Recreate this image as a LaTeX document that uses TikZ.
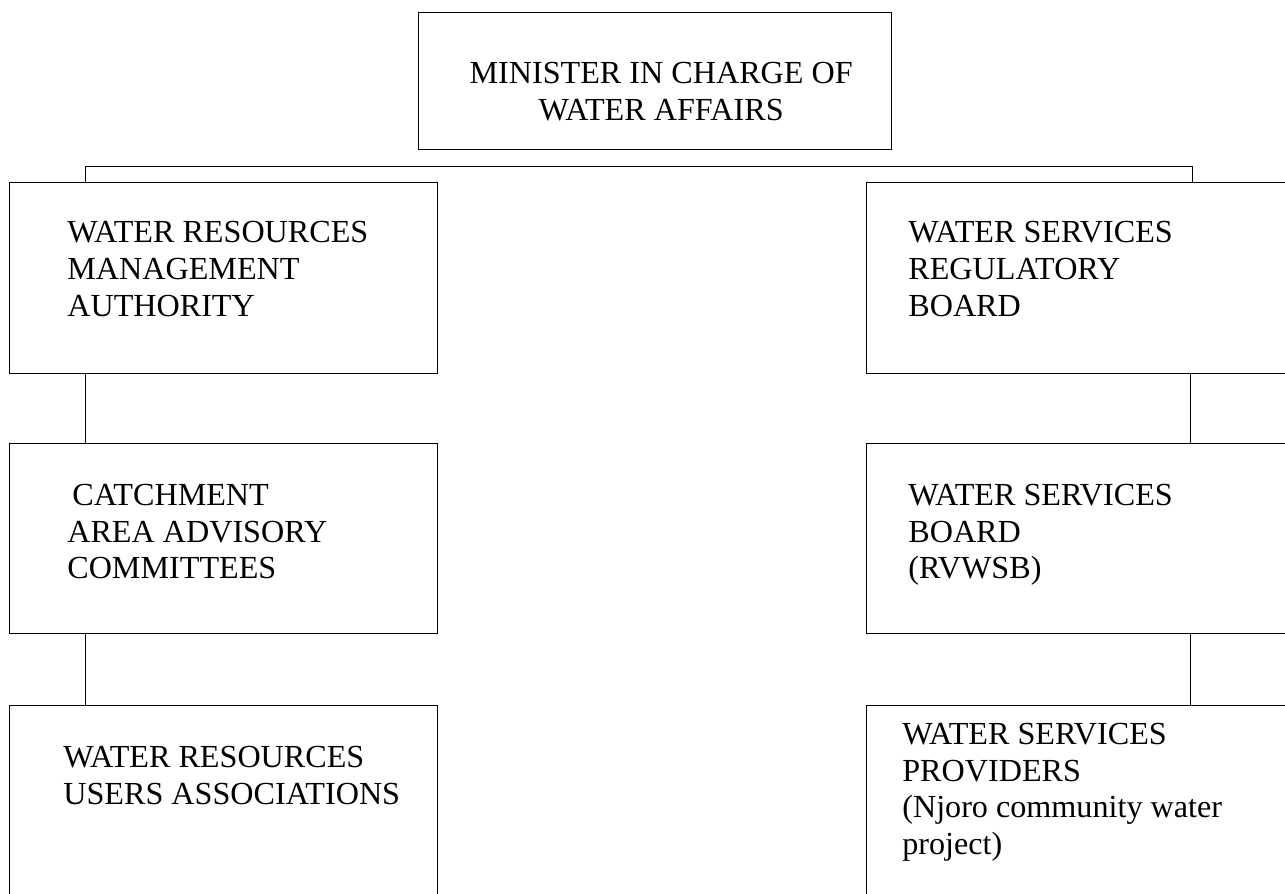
\documentclass[tikz,border=0pt]{standalone}
\usepackage{fontspec}
\setmainfont{Liberation Serif}
\usetikzlibrary{positioning}
\tikzset{
  orgbox/.style={draw=black, line width=0.8pt, anchor=north west, inner sep=0pt},
  orgtext/.style={inner sep=0pt, align=left, font=\fontsize{18.3pt}{21pt}\selectfont},
  link/.style={draw=black, line width=0.5pt}
}
\begin{document}
\begin{tikzpicture}[x=0.02cm,y=-0.02cm]
                          \useasboundingbox (0,0) rectangle (1285,893);
                          \clip (0,0) rectangle (1285,893);

                          % boxes
                          \node[orgbox, minimum width=9.46cm, minimum height=2.74cm] (minister) at (418,12) {};
                          \node[orgbox, minimum width=8.56cm, minimum height=3.82cm] (wrma) at (9,182) {};
                          \node[orgbox, minimum width=8.56cm, minimum height=3.8cm] (caac) at (9,443) {};
                          \node[orgbox, minimum width=8.56cm, minimum height=4cm] (wrua) at (9,705) {};
                          \node[orgbox, minimum width=8.8cm, minimum height=3.82cm] (wsrb) at (866,182) {};
                          \node[orgbox, minimum width=8.8cm, minimum height=3.8cm] (wsb) at (866,443) {};
                          \node[orgbox, minimum width=8.8cm, minimum height=4cm] (wsp) at (866,705) {};

                          % texts
                          \node[orgtext, align=center, below=1.0cm of minister.north, xshift=0.12cm] (ministertxt) {MINISTER IN CHARGE OF\\WATER AFFAIRS};
                          \node[orgtext, below right=0.78cm and 1.16cm of wrma.north west] (wrmatxt) {WATER RESOURCES\\MANAGEMENT\\AUTHORITY};
                          \node[orgtext, below right=0.81cm and 1.16cm of caac.north west] (caactxt) {\hspace{0.1cm}CATCHMENT\\AREA ADVISORY\\COMMITTEES};
                          \node[orgtext, below right=0.81cm and 1.08cm of wrua.north west] (wruatxt) {WATER RESOURCES\\USERS ASSOCIATIONS};
                          \node[orgtext, below right=0.78cm and 0.84cm of wsrb.north west] (wsrbtxt) {WATER SERVICES\\REGULATORY\\BOARD};
                          \node[orgtext, below right=0.81cm and 0.84cm of wsb.north west] (wsbtxt) {WATER SERVICES\\BOARD\\(RVWSB)};
                          \node[orgtext, below right=0.35cm and 0.72cm of wsp.north west] (wsptxt) {WATER SERVICES\\PROVIDERS\\(Njoro community water\\project)};

                          % connectors
                          \draw[link] ([xshift=1.52cm]wrma.north west) -- ++(0,-16) -| ([xshift=6.52cm]wsrb.north west);
                          \draw[link] ([xshift=1.52cm]wrma.south west) -- ([xshift=1.52cm]caac.north west);
                          \draw[link] ([xshift=1.52cm]caac.south west) -- ([xshift=1.52cm]wrua.north west);
                          \draw[link] ([xshift=6.48cm]wsrb.south west) -- ([xshift=6.48cm]wsb.north west);
                          \draw[link] ([xshift=6.48cm]wsb.south west) -- ([xshift=6.48cm]wsp.north west);
\end{tikzpicture}
\end{document}
